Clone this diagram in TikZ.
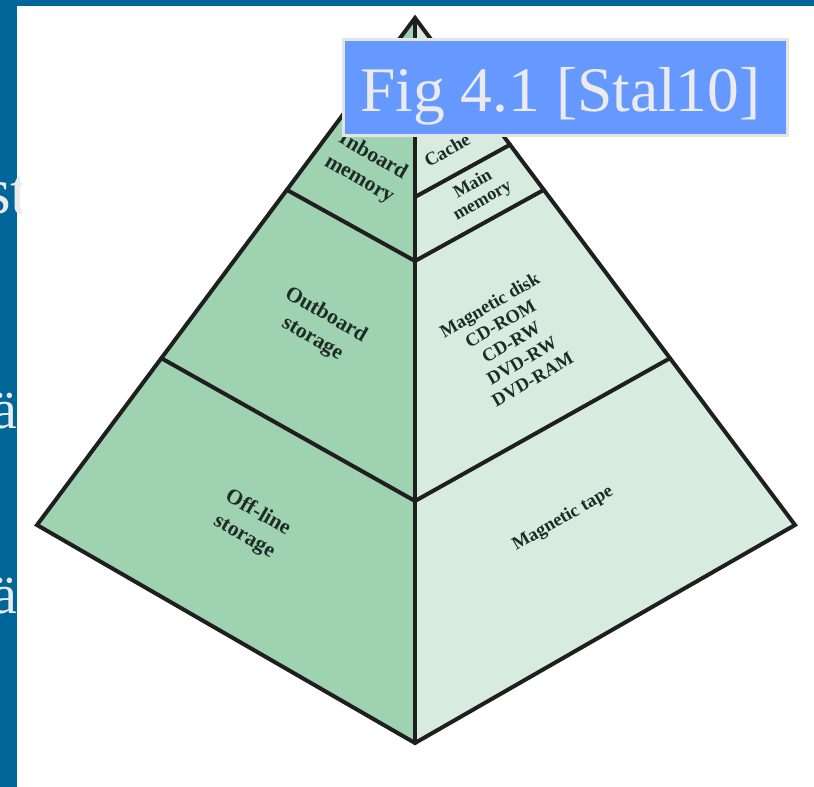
\documentclass[tikz,border=0pt]{standalone}
\usepackage{fontspec}
\setmainfont{Liberation Serif}
\usetikzlibrary{calc}
\definecolor{frameblue}{HTML}{00669A}
\definecolor{leftgreen}{HTML}{9ED2B0}
\definecolor{rightgreen}{HTML}{D7ECDF}
\definecolor{capblue}{HTML}{6699FF}
\definecolor{capgray}{HTML}{EBEBEB}
\definecolor{capedge}{HTML}{E4E4E4}
\definecolor{labelink}{HTML}{1F2B26}
\begin{document}
\begin{tikzpicture}[x=1pt,y=-1pt,
  edgeline/.style={draw=black!88,line width=4pt,line join=miter,line cap=round},
  lblL/.style={font=\fontsize{21.5}{27}\selectfont\bfseries,text=labelink,align=center,inner sep=0pt,rotate=-30},
  lblR/.style={font=\fontsize{18.5}{21.5}\selectfont\bfseries,text=labelink,align=center,inner sep=0pt,rotate=30},
  ghost/.style={text=capgray,inner sep=0pt}]
\useasboundingbox (0,0) rectangle (814,787);
\fill[white] (0,0) rectangle (814,787);
% blue frame
\fill[frameblue] (0,0) rectangle (814,6);
\fill[frameblue] (0,0) rectangle (17,787);
\begin{scope}
\clip (0,0) rectangle (21,787);
\node[ghost,anchor=base west,font=\fontsize{66}{70}\selectfont] (st) at (-15,213) {st};
\node[ghost,anchor=base east,font=\fontsize{56}{60}\selectfont] (ae1) at (18,428) {ä};
\node[ghost,anchor=base east,font=\fontsize{56}{60}\selectfont] (ae2) at (18,613) {ä};
\end{scope}
% pyramid
\coordinate (apex) at (415,18);
\coordinate (lc) at (37,525);
\coordinate (rc) at (795,525);
\coordinate (bot) at (415,743);
\fill[leftgreen] (apex)--(lc)--(bot)--cycle;
\fill[rightgreen] (apex)--(bot)--(rc)--cycle;
\coordinate (l1) at ($(apex)!0.339!(lc)$);
\coordinate (l2) at ($(apex)!0.671!(lc)$);
\coordinate (r0) at ($(apex)!0.25!(rc)$);
\coordinate (r1) at ($(apex)!0.339!(rc)$);
\coordinate (r2) at ($(apex)!0.671!(rc)$);
\coordinate (c0) at (415,197);
\coordinate (c1) at (415,261);
\coordinate (c2) at (415,501);
\draw[edgeline] (l1)--(c1);
\draw[edgeline] (l2)--(c2);
\draw[edgeline] (r0)--(c0);
\draw[edgeline] (r1)--(c1);
\draw[edgeline] (r2)--(c2);
\draw[edgeline] (apex)--(bot);
\draw[edgeline] (apex)--(lc)--(bot)--(rc)--cycle;
% labels
\node[lblL] (inboard) at (366,168) {Inboard\\memory};
\node[lblR] (cache) at (447,150) {Cache};
\node[lblR,font=\fontsize{18}{19}\selectfont\bfseries] (mainmem) at (478,193) {Main\\memory};
\node[lblL] (outboard) at (319,327) {Outboard\\storage};
\node[lblR] (disks) at (511,342) {Magnetic disk\\CD-ROM\\CD-RW\\DVD-RW\\DVD-RAM};
\node[lblL] (offline) at (251,525) {Off-line\\storage};
\node[lblR] (tape) at (563,519) {Magnetic tape};
% caption box
\node[fill=capblue,draw=capedge,line width=3pt,minimum width=444pt,minimum height=96pt,inner sep=0pt] (capbox) at (565.5,87.5) {};
\node[text=capgray,anchor=base west,inner sep=0pt,font=\fontsize{63.5}{66}\selectfont] (caption) at (360,111) {Fig 4.1 [Stal10]};
\end{tikzpicture}
\end{document}
